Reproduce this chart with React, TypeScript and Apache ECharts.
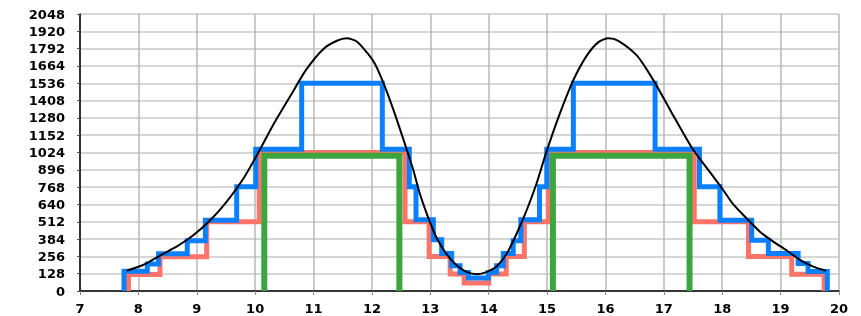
import React, { useEffect, useRef } from "react";
import * as echarts from "echarts";

// Smooth reference curve (x, value)
const curveX = [7.8, 8.08, 8.37, 8.66, 8.94, 9.23, 9.51, 9.8, 10.05, 10.31, 10.6, 10.88, 11.17, 11.4, 11.57, 11.74, 11.92, 12.05, 12.2, 12.37, 12.57, 12.71, 12.82, 12.96, 13.1, 13.27, 13.45, 13.62, 13.8, 13.97, 14.14, 14.31, 14.48, 14.65, 14.82, 14.99, 15.22, 15.45, 15.68, 15.88, 16.05, 16.22, 16.54, 16.82, 17.11, 17.45, 17.62, 17.85, 18.02, 18.19, 18.42, 18.65, 18.88, 19.1, 19.33, 19.56, 19.78];
const curveY = [150, 192, 262, 330, 412, 523, 659, 832, 1020, 1230, 1440, 1640, 1790, 1850, 1868, 1845, 1760, 1680, 1535, 1337, 1080, 893, 721, 548, 400, 277, 190, 141, 124, 141, 183, 277, 425, 597, 795, 1030, 1313, 1559, 1740, 1840, 1868, 1850, 1740, 1559, 1337, 1080, 975, 844, 745, 640, 536, 437, 363, 301, 230, 180, 150];

// Blue steps: level starts at edge
const blueEdges = [7.754, 8.153, 8.346, 8.837, 9.147, 9.684, 10.009, 10.797, 12.178, 12.64, 12.755, 13.052, 13.195, 13.366, 13.51, 13.652, 13.994, 14.137, 14.25, 14.42, 14.55, 14.87, 14.995, 15.45, 16.85, 17.61, 17.96, 18.505, 18.79, 19.3, 19.47];
const blueLevels = [146, 200, 276, 372, 524, 770, 1048, 1536, 1048, 770, 526, 378, 277, 186, 136, 96, 136, 186, 277, 372, 526, 770, 1048, 1536, 1048, 770, 524, 376, 277, 203, 144];
const blueEnd = 19.8;

// Red steps
const redEdges = [7.83, 8.37, 9.17, 10.07, 12.567, 12.98, 13.34, 13.58, 14.0, 14.3, 14.61, 15.02, 17.52, 18.45, 19.19];
const redLevels = [122, 254, 512, 1024, 512, 256, 126, 60, 126, 256, 512, 1024, 512, 256, 124];
const redEnd = 19.745;

// Green pulses
const greenStarts = [10.157, 15.1];
const greenEnds = [12.47, 17.44];
const greenLevel = [1000, 1000];

const yTicks = { min: 0, max: 2048, interval: 128 };
const xTicks = { min: 7, max: 20, interval: 1 };

function stepData(edges: number[], levels: number[], end: number) {
  const d: number[][] = [[edges[0], 0]];
  edges.forEach((x, i) => d.push([x, levels[i]]));
  d.push([end, 0]);
  return d;
}

export default function App() {
  const ref = useRef<HTMLDivElement>(null);
  useEffect(() => {
    if (!ref.current) return;
    const chart = echarts.init(ref.current, null, { renderer: "svg" });
    const font = { fontFamily: "DejaVu Sans", fontWeight: "bold" as const, fontSize: 13, color: "#000" };
    const greenSeries = greenStarts.map((s, i) => ({
      type: "line" as const,
      data: [[s, 0], [s, greenLevel[i]], [greenEnds[i], greenLevel[i]], [greenEnds[i], 0]],
      showSymbol: false,
      symbol: "none",
      lineStyle: { color: "#3da53d", width: 6, join: "miter" as const, cap: "butt" as const },
      z: 3,
    }));
    chart.setOption({
      animation: false,
      grid: { left: 80, right: 22, top: 14, bottom: 25 },
      xAxis: {
        type: "value",
        min: xTicks.min,
        max: xTicks.max,
        interval: xTicks.interval,
        axisLine: { onZero: false, lineStyle: { color: "#000", width: 1.5 } },
        axisTick: { show: true, length: 4, lineStyle: { color: "#888" } },
        axisLabel: { ...font, fontSize: 13, margin: 11, formatter: (v: number) => String(v) },
        splitLine: { show: true, lineStyle: { color: "#b8b8b8", width: 1.5 } },
      },
      yAxis: {
        type: "value",
        min: yTicks.min,
        max: yTicks.max,
        interval: yTicks.interval,
        axisLine: { show: true, lineStyle: { color: "#000", width: 1.5 } },
        axisTick: { show: true, length: 3, lineStyle: { color: "#555" } },
        axisLabel: { ...font, margin: 15, formatter: (v: number) => String(v) },
        splitLine: { show: true, lineStyle: { color: "#c8c8c8", width: 1.5 } },
      },
      series: [
        {
          type: "line",
          data: stepData(redEdges, redLevels, redEnd),
          step: "end",
          symbol: "none",
          lineStyle: { color: "#ff7469", width: 5, join: "miter", cap: "butt" },
          z: 2,
        },
        ...greenSeries,
        {
          type: "line",
          data: stepData(blueEdges, blueLevels, blueEnd),
          step: "end",
          symbol: "none",
          lineStyle: { color: "#0a80ff", width: 5, join: "miter", cap: "butt" },
          z: 4,
        },
        {
          type: "line",
          data: curveX.map((x, i) => [x, curveY[i]]),
          smooth: 0.25,
          symbol: "none",
          lineStyle: { color: "#000", width: 2 },
          z: 5,
        },
      ],
    });
    return () => chart.dispose();
  }, []);
  return <div ref={ref} style={{ position: "fixed", left: 0, top: 0, width: 861, height: 316 }} />;
}
